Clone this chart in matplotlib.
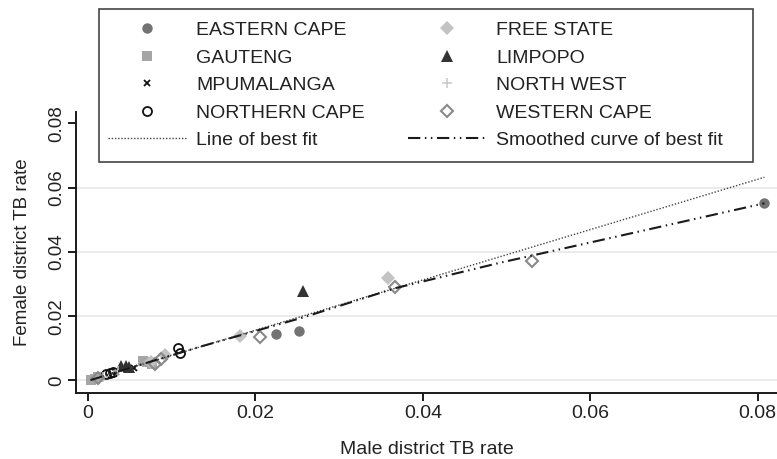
"""
Female vs male district TB rate by province, with a straight fit line and a
smoothed (lowess-style) curve, drawn Stata-ish (s1mono look).
"""

import matplotlib
matplotlib.use("Agg")
import matplotlib.pyplot as plt
from matplotlib.patches import Rectangle

# --- data (male rate, female rate) per province ---
ec_x = [0.0224, 0.0252, 0.0808]
ec_y = [0.0144, 0.0154, 0.0553]
fs_x = [0.0075, 0.0092, 0.0182, 0.0358]
fs_y = [0.0056, 0.0079, 0.0138, 0.0319]
gt_x = [0.0004, 0.0008, 0.0012, 0.0066, 0.0071, 0.0077]
gt_y = [0.0002, 0.0005, 0.0010, 0.0062, 0.0058, 0.0052]
lp_x = [0.0040, 0.0045, 0.0049, 0.0257]
lp_y = [0.0046, 0.0044, 0.0042, 0.0279]
mp_x = [0.0033, 0.0055]
mp_y = [0.0026, 0.0040]
nw_x = [0.0018, 0.0036]
nw_y = [0.0011, 0.0029]
nc_x = [0.0022, 0.0026, 0.0030, 0.0108, 0.0110]
nc_y = [0.0019, 0.0023, 0.0026, 0.0101, 0.0085]
wc_x = [0.0012, 0.0080, 0.0087, 0.0205, 0.0367, 0.0530]
wc_y = [0.0008, 0.0050, 0.0067, 0.0134, 0.0290, 0.0373]

fit_x = [0.0003, 0.0808]
fit_y = [0.0002, 0.0632]
smooth_x = [0.0003, 0.0050, 0.0134, 0.0257, 0.0367, 0.0492, 0.0663, 0.0808]
smooth_y = [0.0001, 0.0039, 0.0105, 0.0196, 0.0287, 0.0366, 0.0466, 0.0551]

ticks = [0, 0.02, 0.04, 0.06, 0.08]
tick_labels = ["0", "0.02", "0.04", "0.06", "0.08"]

plt.rcParams["font.family"] = ["Liberation Sans", "DejaVu Sans"]

# label, x, y, marker style
series = [
    ("EASTERN CAPE", ec_x, ec_y, dict(marker="o", ms=7.5, mfc="#737373", mec="#737373", mew=0)),
    ("GAUTENG", gt_x, gt_y, dict(marker="s", ms=6.5, mfc="#a6a6a6", mec="#a6a6a6", mew=0)),
    ("MPUMALANGA", mp_x, mp_y, dict(marker="x", ms=4.5, mfc="none", mec="#111111", mew=1.3)),
    ("NORTHERN CAPE", nc_x, nc_y, dict(marker="o", ms=6.5, mfc="none", mec="#111111", mew=1.3)),
    ("FREE STATE", fs_x, fs_y, dict(marker="D", ms=6.8, mfc="#c3c3c3", mec="#c3c3c3", mew=0)),
    ("LIMPOPO", lp_x, lp_y, dict(marker="^", ms=8.5, mfc="#333333", mec="#333333", mew=0)),
    ("NORTH WEST", nw_x, nw_y, dict(marker="+", ms=6.5, mfc="none", mec="#c8c8c8", mew=1.1)),
    ("WESTERN CAPE", wc_x, wc_y, dict(marker="D", ms=6.3, mfc="none", mec="#8a8a8a", mew=1.5)),
]

fit_style = dict(color="#444444", lw=1.0, linestyle=(0, (1, 1.3)))
smooth_style = dict(color="#1a1a1a", lw=1.5, linestyle=(0, (5.9, 2.2, 0.7, 2.2, 0.7, 2.2)))

fig = plt.figure(figsize=(7.77, 4.59), dpi=100)
ax = fig.add_axes([0.0978, 0.1438, 0.9022, 0.6129])

handles = {}
for name, xs, ys, st in series:
    h, = ax.plot(xs, ys, linestyle="none", **st)
    handles[name] = h

h_fit, = ax.plot(fit_x, fit_y, **fit_style)
h_smooth, = ax.plot(smooth_x, smooth_y, **smooth_style)

ax.set_xlim(-0.00143, 0.0823)
ax.set_ylim(-0.0039, 0.0836)
ax.set_xticks(ticks)
ax.set_xticklabels(tick_labels)
ax.set_yticks(ticks)
ax.set_yticklabels(tick_labels)

for side in ["top", "right"]:
    ax.spines[side].set_visible(False)
for side in ["left", "bottom"]:
    ax.spines[side].set_linewidth(1.4)
    ax.spines[side].set_color("#1a1a1a")

ax.tick_params(axis="both", direction="out", length=6, width=1.4, color="#1a1a1a",
               labelcolor="#222222")
ax.tick_params(axis="x", labelsize=14, pad=3)
ax.tick_params(axis="y", labelsize=13.5, pad=1.5, labelrotation=90)
for lab in ax.get_yticklabels():
    lab.set_va("center")

# horizontal grid only, and none at the top tick (legend sits there)
ax.yaxis.grid(True, color="#ebebeb", lw=1.4)
ax.get_ygridlines()[-1].set_visible(False)
ax.set_axisbelow(True)

ax.set_xlabel("Male district TB rate", fontsize=14, labelpad=13, color="#222222")
ax.set_ylabel("Female district TB rate", fontsize=13.5, labelpad=13, color="#222222")

# legend box drawn by hand so its size matches the reference
fig.patches.append(Rectangle((0.1274, 0.6477), 0.8413, 0.332, transform=fig.transFigure,
                             facecolor="white", edgecolor="#444444", lw=1.2, zorder=4))

order = ["EASTERN CAPE", "GAUTENG", "MPUMALANGA", "NORTHERN CAPE"]
order2 = ["FREE STATE", "LIMPOPO", "NORTH WEST", "WESTERN CAPE"]
leg_h = [handles[n] for n in order] + [h_fit] + [handles[n] for n in order2] + [h_smooth]
leg_l = order + ["Line of best fit"] + order2 + ["Smoothed curve of best fit"]
leg = fig.legend(leg_h, leg_l, loc="upper left", bbox_to_anchor=(0.139, 0.9532),
                 ncol=2, frameon=False, fontsize=14, borderpad=0, borderaxespad=0,
                 handlelength=4.0, handletextpad=0.55, columnspacing=2.2,
                 labelspacing=0.51, numpoints=1)
leg.set_zorder(6)
for t in leg.get_texts():
    t.set_color("#222222")

fig.savefig("out.png", dpi=100)
